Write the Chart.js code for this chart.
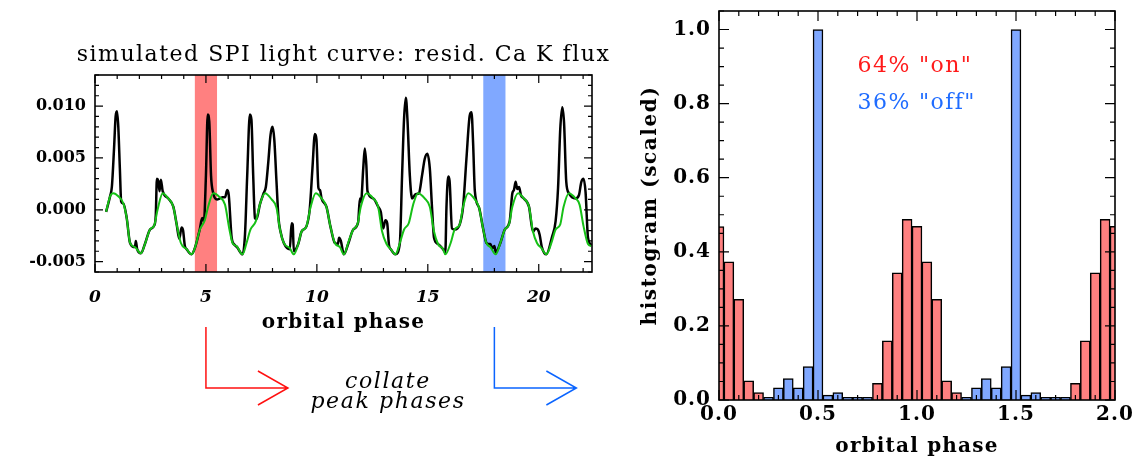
<!DOCTYPE html>
<html>
<head>
<meta charset="utf-8">
<script src="https://cdn.jsdelivr.net/npm/chart.js@4.4.0/dist/chart.umd.min.js"></script>
<style>
  html, body { margin: 0; padding: 0; background: #fff; }
  #lienzo { position: relative; width: 1134px; height: 460px; overflow: hidden; }
  #curva { position: absolute; left: 0; top: 0; }
  #histo { position: absolute; left: 620px; top: 0; }
  .nota { position: absolute; left: 268px; top: 371px; width: 240px; text-align: center;
          font-family: 'DejaVu Serif', serif; font-style: italic; font-size: 22px; line-height: 20px;
          letter-spacing: 1.6px; }
</style>
</head>
<body>
<div id="lienzo">
  <canvas id="curva" width="620" height="460"></canvas>
  <canvas id="histo" width="514" height="460"></canvas>
  <div class="nota">collate<br>peak phases</div>
</div>
<script>
// Curva de luz simulada (fase orbital, flujo residual Ca K)
const curvaNegra = [
  [0.5,-0.0002],[0.68,0.0013],[0.76,0.0022],[0.86,0.0060],[0.93,0.0090],[0.99,0.0095],[1.05,0.0080],
  [1.12,0.0040],[1.18,0.0008],[1.28,0.0006],[1.43,-0.0008],[1.58,-0.0032],[1.8,-0.0036],[1.84,-0.0030],
  [1.9,-0.0038],[2.07,-0.0042],[2.25,-0.0033],[2.48,-0.0019],[2.67,-0.0015],[2.74,-0.0005],[2.79,0.0030],
  [2.85,0.0028],[2.91,0.0018],[2.97,0.0029],[3.05,0.0018],[3.3,0.0011],[3.53,0.0003],[3.68,-0.0014],
  [3.8,-0.0028],[3.9,-0.0017],[3.97,-0.0020],[4.05,-0.0035],[4.13,-0.0038],[4.35,-0.0043],[4.5,-0.0037],
  [4.73,-0.0018],[4.83,-0.0008],[4.91,-0.0011],[5.0,0.0033],[5.08,0.0092],[5.15,0.0085],[5.23,0.0033],
  [5.33,0.0016],[5.5,0.0010],[5.63,0.0011],[5.75,0.0012],[5.86,0.0012],[5.96,0.0019],[6.03,0.0014],
  [6.16,-0.0027],[6.3,-0.0034],[6.4,-0.0036],[6.65,-0.0043],[6.76,-0.0024],[6.86,0.0033],[6.98,0.0092],
  [7.05,0.0087],[7.13,0.0033],[7.21,-0.0008],[7.28,-0.0009],[7.43,0.0005],[7.6,0.0016],[7.7,0.0022],
  [7.81,0.0046],[7.91,0.0072],[8.0,0.0080],[8.08,0.0068],[8.18,0.0027],[8.27,-0.0008],[8.36,-0.0021],
  [8.51,-0.0032],[8.78,-0.0038],[8.86,-0.0013],[8.91,-0.0014],[8.96,-0.0040],[9.16,-0.0033],[9.31,-0.0021],
  [9.53,-0.0016],[9.68,0.0001],[9.8,0.0040],[9.91,0.0073],[9.98,0.0068],[10.07,0.0021],[10.14,0.0019],
  [10.21,0.0011],[10.43,0.0003],[10.61,-0.0016],[10.81,-0.0032],[10.95,-0.0033],[11.0,-0.0027],[11.08,-0.0030],
  [11.22,-0.0043],[11.41,-0.0033],[11.64,-0.0019],[11.86,-0.0012],[11.94,0.0011],[11.99,0.0008],[12.09,0.0040],
  [12.16,0.0059],[12.23,0.0043],[12.28,0.0018],[12.54,0.0011],[12.76,0.0003],[12.88,-0.0002],[12.99,-0.0018],
  [13.09,-0.0010],[13.17,-0.0013],[13.25,-0.0034],[13.33,-0.0038],[13.54,-0.0043],[13.74,-0.0032],[13.84,0.0033],
  [13.93,0.0088],[14.01,0.0108],[14.08,0.0088],[14.19,0.0033],[14.29,0.0011],[14.45,0.0015],[14.6,0.0016],
  [14.74,0.0033],[14.86,0.0049],[14.98,0.0054],[15.09,0.0040],[15.19,0.0002],[15.28,-0.0027],[15.46,-0.0033],
  [15.69,-0.0038],[15.79,-0.0041],[15.84,0.0002],[15.92,0.0032],[15.98,0.0028],[16.09,-0.0018],[16.21,-0.0019],
  [16.44,-0.0014],[16.59,0.0003],[16.74,0.0049],[16.89,0.0091],[16.97,0.0094],[17.04,0.0065],[17.12,0.0018],
  [17.31,0.0002],[17.49,-0.0018],[17.64,-0.0032],[17.72,-0.0033],[17.82,-0.0033],[17.91,-0.0037],[18.0,-0.0035],
  [18.06,-0.0041],[18.27,-0.0032],[18.47,-0.0019],[18.69,-0.0011],[18.81,0.0016],[18.88,0.0019],[18.96,0.0027],
  [19.03,0.0020],[19.11,0.0022],[19.2,0.0014],[19.32,0.0011],[19.56,0.0003],[19.74,-0.0021],[19.86,-0.0018],
  [19.96,-0.0019],[20.04,-0.0024],[20.14,-0.0036],[20.34,-0.0043],[20.6,-0.0026],[20.76,-0.0011],[20.87,0.0021],
  [20.97,0.0078],[21.06,0.0099],[21.14,0.0084],[21.24,0.0027],[21.36,0.0016],[21.66,0.0011],[21.81,0.0014],
  [21.92,0.0027],[22.02,0.0030],[22.11,0.0017],[22.22,-0.0027],[22.37,-0.0034]
];

const curvaVerde = [
  [0.5,-0.0002],[0.68,0.0013],[0.83,0.0016],[1.05,0.0013],[1.28,0.0006],[1.43,-0.0008],[1.58,-0.0032],
  [1.8,-0.0036],[2.07,-0.0042],[2.25,-0.0033],[2.48,-0.0019],[2.67,-0.0015],[2.82,0.0000],[3.05,0.0016],
  [3.3,0.0011],[3.53,0.0003],[3.68,-0.0014],[3.87,-0.0032],[4.13,-0.0038],[4.35,-0.0043],[4.5,-0.0037],
  [4.73,-0.0019],[4.95,-0.0010],[5.1,0.0003],[5.33,0.0016],[5.63,0.0012],[5.86,0.0005],[6.05,-0.0018],
  [6.2,-0.0032],[6.38,-0.0035],[6.65,-0.0043],[6.83,-0.0032],[7.01,-0.0019],[7.25,-0.0011],[7.43,0.0005],
  [7.66,0.0016],[7.96,0.0010],[8.18,0.0002],[8.33,-0.0018],[8.51,-0.0032],[8.78,-0.0037],[8.96,-0.0043],
  [9.16,-0.0033],[9.31,-0.0021],[9.53,-0.0016],[9.71,0.0002],[9.95,0.0016],[10.21,0.0011],[10.43,0.0003],
  [10.61,-0.0016],[10.81,-0.0032],[11.04,-0.0036],[11.22,-0.0043],[11.44,-0.0030],[11.64,-0.0019],[11.83,-0.0014],
  [11.98,0.0003],[12.24,0.0016],[12.54,0.0011],[12.76,0.0003],[12.94,-0.0021],[13.14,-0.0033],[13.33,-0.0038],
  [13.54,-0.0043],[13.74,-0.0032],[13.93,-0.0019],[14.14,-0.0013],[14.34,0.0005],[14.56,0.0016],[14.86,0.0011],
  [15.09,0.0003],[15.28,-0.0021],[15.46,-0.0033],[15.69,-0.0038],[15.79,-0.0043],[16.03,-0.0032],[16.21,-0.0019],
  [16.44,-0.0014],[16.59,0.0003],[16.82,0.0016],[17.12,0.0010],[17.31,0.0002],[17.49,-0.0018],[17.64,-0.0032],
  [17.82,-0.0036],[18.06,-0.0043],[18.27,-0.0032],[18.47,-0.0019],[18.66,-0.0014],[18.81,0.0003],[19.07,0.0016],
  [19.32,0.0011],[19.56,0.0003],[19.74,-0.0021],[19.92,-0.0032],[20.12,-0.0037],[20.34,-0.0043],[20.57,-0.0032],
  [20.76,-0.0019],[20.97,-0.0014],[21.12,0.0003],[21.36,0.0016],[21.66,0.0011],[21.84,0.0005],[22.02,-0.0016],
  [22.22,-0.0033],[22.37,-0.0035]
];

// Intervalos de fase marcados (pico "on" y pico "off")
const bandas = [[4.5, 5.5], [17.5, 18.5]];
const coloresBanda = ['#ff8080', '#80a8ff'];
const coloresFlecha = ['#ff1010', '#0a64ff'];

// Histograma de fases de pico (bins de 0.05)
const fasesBins = [0.00,0.05,0.10,0.15,0.20,0.25,0.30,0.35,0.40,0.45,0.50,0.55,0.60,0.65,0.70,0.75,0.80,0.85,0.90,0.95,
                   1.00,1.05,1.10,1.15,1.20,1.25,1.30,1.35,1.40,1.45,1.50,1.55,1.60,1.65,1.70,1.75,1.80,1.85,1.90,1.95,2.00];
const alturasOn = [0.468,0.373,0.272,0.052,0.020,null,null,null,null,null,null,null,null,null,null,null,
                   0.045,0.160,0.343,0.488,0.469,0.373,0.272,0.052,0.020,null,null,null,null,null,null,null,null,null,null,null,
                   0.045,0.160,0.343,0.488,0.469];
const alturasOff = [null,null,null,null,null,0.007,0.033,0.058,0.033,0.090,1.000,0.013,0.020,0.007,0.007,0.007,
                    null,null,null,null,null,null,null,null,null,0.007,0.033,0.058,0.033,0.090,1.000,0.013,0.020,0.007,0.007,0.007,
                    null,null,null,null,null];
const etiquetasHisto = ['64% "on"', '36% "off"'];
const coloresEtiqueta = ['#ff1a1a', '#1f6cff'];
const posEtiquetas = [[0.70, 0.90], [0.70, 0.80]];

const tituloCurva = 'simulated SPI light curve: resid. Ca K flux';
const tituloFase = 'orbital phase';
const tituloHisto = 'histogram (scaled)';

const fuente = "'DejaVu Serif', serif";

// Marco con marcas hacia adentro en los cuatro lados (estilo IDL)
const marcoIDL = {
  id: 'marcoIDL',
  afterDatasetsDraw(chart, args, opts) {
    const {ctx, chartArea: a, scales: {x, y}} = chart;
    ctx.save();
    ctx.strokeStyle = '#000';
    ctx.lineWidth = 1.2;
    ctx.beginPath();
    const pasoMayorX = x.options.ticks.stepSize;
    for (let n = Math.ceil(x.min / opts.xMenor - 1e-6); n * opts.xMenor <= x.max + 1e-9; n++) {
      const v = n * opts.xMenor;
      const px = x.getPixelForValue(v);
      const r = v / pasoMayorX;
      const L = Math.abs(r - Math.round(r)) < 1e-6 ? opts.largoMayor : opts.largoMenor;
      ctx.moveTo(px, a.bottom); ctx.lineTo(px, a.bottom - L);
      ctx.moveTo(px, a.top); ctx.lineTo(px, a.top + L);
    }
    const pasoMayorY = y.options.ticks.stepSize;
    for (let n = Math.ceil(y.min / opts.yMenor - 1e-6); n * opts.yMenor <= y.max + 1e-9; n++) {
      const v = n * opts.yMenor;
      const py = y.getPixelForValue(v);
      const r = v / pasoMayorY;
      const L = Math.abs(r - Math.round(r)) < 1e-6 ? opts.largoMayor : opts.largoMenor;
      ctx.moveTo(a.left, py); ctx.lineTo(a.left + L, py);
      ctx.moveTo(a.right, py); ctx.lineTo(a.right - L, py);
    }
    ctx.stroke();
    ctx.lineWidth = 1.6;
    ctx.strokeRect(a.left, a.top, a.right - a.left, a.bottom - a.top);
    ctx.restore();
  }
};

// Titulos con espaciado entre letras (la fuente original es mas ancha)
const titulos = {
  id: 'titulos',
  beforeDraw(chart, args, opts) {
    chart.ctx.letterSpacing = opts.espacioTicks || '0px';
  },
  afterDraw(chart, args, opts) {
    const {ctx, chartArea: a} = chart;
    ctx.save();
    ctx.fillStyle = '#000';
    ctx.textAlign = 'center';
    ctx.textBaseline = 'middle';
    (opts.textos || []).forEach(t => {
      const px = t.lado === 'izq' ? a.left + t.dx : (a.left + a.right) / 2;
      const py = t.lado === 'arriba' ? a.top + t.dy
               : t.lado === 'abajo' ? a.bottom + t.dy
               : (a.top + a.bottom) / 2;
      ctx.font = t.fuente;
      ctx.letterSpacing = t.espacio;
      ctx.save();
      ctx.translate(px, py);
      if (t.lado === 'izq') ctx.rotate(-Math.PI / 2);
      ctx.fillText(t.texto, 0, 0);
      ctx.restore();
    });
    ctx.restore();
    ctx.letterSpacing = '0px';
  }
};

// Bandas sombreadas detras de las curvas
const bandasFase = {
  id: 'bandasFase',
  beforeDatasetsDraw(chart) {
    const {ctx, chartArea: a, scales: {x}} = chart;
    ctx.save();
    bandas.forEach((b, i) => {
      const x0 = x.getPixelForValue(b[0]);
      const x1 = x.getPixelForValue(b[1]);
      ctx.fillStyle = coloresBanda[i];
      ctx.fillRect(x0, a.top, x1 - x0, a.bottom - a.top);
    });
    ctx.restore();
  }
};

// Flechas que bajan desde cada banda
const flechas = {
  id: 'flechas',
  afterDraw(chart) {
    const {ctx, chartArea: a, scales: {x}} = chart;
    ctx.save();
    ctx.lineWidth = 1.5;
    bandas.forEach((b, i) => {
      const px = x.getPixelForValue((b[0] + b[1]) / 2);
      const y0 = a.bottom + 55;
      const y1 = a.bottom + 116;
      ctx.strokeStyle = coloresFlecha[i];
      ctx.beginPath();
      ctx.moveTo(px, y0); ctx.lineTo(px, y1); ctx.lineTo(px + 82, y1);
      ctx.moveTo(px + 52, y1 - 17); ctx.lineTo(px + 82, y1); ctx.lineTo(px + 52, y1 + 17);
      ctx.stroke();
    });
    ctx.restore();
  }
};

// Textos de porcentaje dentro del histograma
const textosHisto = {
  id: 'textosHisto',
  afterDraw(chart) {
    const {ctx, scales: {x, y}} = chart;
    ctx.save();
    ctx.font = '22px ' + fuente;
    ctx.letterSpacing = '1.4px';
    ctx.textAlign = 'left';
    ctx.textBaseline = 'middle';
    etiquetasHisto.forEach((t, i) => {
      ctx.fillStyle = coloresEtiqueta[i];
      ctx.fillText(t, x.getPixelForValue(posEtiquetas[i][0]), y.getPixelForValue(posEtiquetas[i][1]));
    });
    ctx.restore();
    ctx.letterSpacing = '0px';
  }
};

const aPuntos = (lista) => lista.map(p => ({x: p[0], y: p[1]}));
const sinRelleno = (s) => { s.paddingTop = 0; s.paddingBottom = 0; s.paddingLeft = 0; s.paddingRight = 0; };

new Chart(document.querySelector('#curva'), {
  type: 'line',
  data: {
    datasets: [
      {
        label: 'modulacion',
        data: aPuntos(curvaVerde),
        borderColor: '#16c016',
        borderWidth: 2,
        pointRadius: 0,
        cubicInterpolationMode: 'monotone'
      },
      {
        label: 'flujo',
        data: aPuntos(curvaNegra),
        borderColor: '#000',
        borderWidth: 2.5,
        pointRadius: 0,
        cubicInterpolationMode: 'monotone'
      }
    ]
  },
  options: {
    responsive: false,
    animation: false,
    layout: { padding: { top: 75, left: 0, right: 28, bottom: 126 } },
    plugins: {
      legend: { display: false },
      tooltip: { enabled: false },
      marcoIDL: { xMenor: 1, yMenor: 0.001, largoMayor: 8, largoMenor: 4 },
      titulos: {
        espacioTicks: '0px',
        textos: [
          { texto: tituloCurva, lado: 'arriba', dy: -20, fuente: '22px ' + fuente, espacio: '1.5px' },
          { texto: tituloFase, lado: 'abajo', dy: 51, fuente: 'bold 20px ' + fuente, espacio: '1.2px' }
        ]
      }
    },
    scales: {
      x: {
        type: 'linear',
        min: 0,
        max: 22.4,
        grid: { display: false, drawTicks: false },
        border: { display: false },
        ticks: {
          stepSize: 5,
          includeBounds: false,
          padding: 15,
          color: '#000',
          maxRotation: 0,
          font: { family: fuente, size: 17, weight: 'bold', style: 'italic' },
          callback: (v) => String(v)
        },
        afterFit: (s) => { s.height = 62; sinRelleno(s); }
      },
      y: {
        min: -0.006,
        max: 0.013,
        grid: { display: false, drawTicks: false },
        border: { display: false },
        ticks: {
          stepSize: 0.005,
          includeBounds: false,
          padding: 9,
          color: '#000',
          font: { family: fuente, size: 16, weight: 'bold' },
          callback: (v) => v.toFixed(3)
        },
        afterFit: (s) => { s.width = 95; sinRelleno(s); }
      }
    }
  },
  plugins: [bandasFase, marcoIDL, flechas, titulos]
});

const aBarras = (alturas) => fasesBins
  .map((f, i) => ({x: f, y: alturas[i]}))
  .filter(p => p.y !== null);

new Chart(document.querySelector('#histo'), {
  type: 'bar',
  data: {
    datasets: [
      {
        label: 'on',
        data: aBarras(alturasOn),
        backgroundColor: '#ff8080',
        borderColor: '#000',
        borderWidth: 1.5,
        grouped: false,
        barPercentage: 1,
        categoryPercentage: 1
      },
      {
        label: 'off',
        data: aBarras(alturasOff),
        backgroundColor: '#80a8ff',
        borderColor: '#000',
        borderWidth: 1.5,
        grouped: false,
        barPercentage: 1,
        categoryPercentage: 1
      }
    ]
  },
  options: {
    responsive: false,
    animation: false,
    layout: { padding: { top: 11, left: 20, right: 19, bottom: 2 } },
    plugins: {
      legend: { display: false },
      tooltip: { enabled: false },
      marcoIDL: { xMenor: 0.1, yMenor: 0.05, largoMayor: 10, largoMenor: 5 },
      titulos: {
        espacioTicks: '1px',
        textos: [
          { texto: tituloFase, lado: 'abajo', dy: 47, fuente: 'bold 20px ' + fuente, espacio: '1.2px' },
          { texto: tituloHisto, lado: 'izq', dx: -68, fuente: 'bold 20px ' + fuente, espacio: '1.6px' }
        ]
      }
    },
    scales: {
      x: {
        type: 'linear',
        min: 0,
        max: 2,
        offset: false,
        grid: { display: false, drawTicks: false },
        border: { display: false },
        ticks: {
          stepSize: 0.5,
          padding: 3,
          color: '#000',
          maxRotation: 0,
          font: { family: fuente, size: 20, weight: 'bold' },
          callback: (v) => v.toFixed(1)
        },
        afterFit: (s) => { s.height = 58; sinRelleno(s); }
      },
      y: {
        min: 0,
        max: 1.05,
        grid: { display: false, drawTicks: false },
        border: { display: false },
        ticks: {
          stepSize: 0.2,
          includeBounds: false,
          padding: 8,
          color: '#000',
          font: { family: fuente, size: 20, weight: 'bold' },
          callback: (v) => v.toFixed(1)
        },
        afterFit: (s) => { s.width = 79; sinRelleno(s); }
      }
    }
  },
  plugins: [marcoIDL, textosHisto, titulos]
});
</script>
</body>
</html>
